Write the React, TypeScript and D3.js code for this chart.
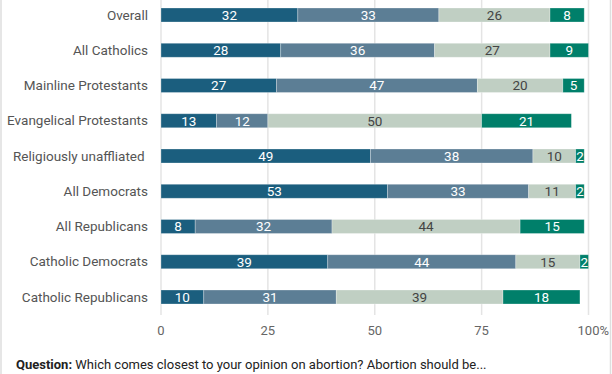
import React, { useEffect, useRef } from 'react';
import * as d3 from 'd3';

const categories = [
  'Overall',
  'All Catholics',
  'Mainline Protestants',
  'Evangelical Protestants',
  'Religiously unaffliated ',
  'All Democrats',
  'All Republicans',
  'Catholic Democrats',
  'Catholic Republicans',
];

// four answer groups, left to right
const legalAll = [32, 28, 27, 13, 49, 53, 8, 39, 10];
const legalMost = [33, 36, 47, 12, 38, 33, 32, 44, 31];
const illegalMost = [26, 27, 20, 50, 10, 11, 44, 15, 39];
const illegalAll = [8, 9, 5, 21, 2, 2, 15, 2, 18];

const seriesColors = ['#1b5e7e', '#5c7e95', '#c0cfc3', '#007f6a'];
const labelColors = ['#ffffff', '#ffffff', '#444444', '#ffffff'];

const tickValues = [0, 25, 50, 75, 100];

const W = 612;
const H = 374;

export default function App() {
  const svgRef = useRef<SVGSVGElement>(null);

  useEffect(() => {
    if (!svgRef.current) return;
    const svg = d3.select(svgRef.current);
    svg.selectAll('*').remove();

    const series = [legalAll, legalMost, illegalMost, illegalAll];
    const rows = categories.map((c, i) => ({ cat: c, vals: series.map(s => s[i]) }));

    const x = d3.scaleLinear().domain([0, 100]).range([161, 588.5]);
    const y = d3.scalePoint<string>().domain(categories).range([15, 297]);
    const barH = 14;

    // frame lines
    svg.append('line')
      .attr('x1', 1).attr('x2', 1).attr('y1', 0).attr('y2', H)
      .attr('stroke', '#dedede').attr('stroke-width', 1.5);
    svg.append('line')
      .attr('x1', 610.5).attr('x2', 610.5).attr('y1', 0).attr('y2', H)
      .attr('stroke', '#dedede').attr('stroke-width', 1.5);

    // grid
    svg.append('g')
      .selectAll('line')
      .data(tickValues)
      .join('line')
      .attr('x1', d => x(d)).attr('x2', d => x(d))
      .attr('y1', 0).attr('y2', 315)
      .attr('stroke', '#e4e4e4')
      .attr('stroke-width', 1.5);

    // category labels
    svg.append('g')
      .selectAll('text')
      .data(categories)
      .join('text')
      .attr('x', 148)
      .attr('y', d => y(d)!)
      .attr('dy', '0.35em')
      .attr('text-anchor', 'end')
      .attr('font-family', 'Roboto, sans-serif')
      .attr('font-size', 13.5)
      .attr('fill', '#555')
      .style('white-space', 'pre')
      .text(d => d);

    // stacked segments
    const rowG = svg.append('g')
      .selectAll('g')
      .data(rows)
      .join('g')
      .attr('transform', d => `translate(0,${y(d.cat)})`);

    rowG.each(function (d) {
      const g = d3.select(this);
      let acc = 0;
      d.vals.forEach((v, k) => {
        const x0 = x(acc);
        const x1 = x(acc + v);
        acc += v;
        g.append('rect')
          .attr('x', x0)
          .attr('y', -barH / 2)
          .attr('width', x1 - x0)
          .attr('height', barH)
          .attr('fill', seriesColors[k])
          .attr('stroke', 'rgba(255,255,255,0.35)')
          .attr('stroke-width', 0.8);
        g.append('text')
          .attr('x', (x0 + x1) / 2)
          .attr('y', 0)
          .attr('dy', '0.36em')
          .attr('text-anchor', 'middle')
          .attr('font-family', 'Roboto, sans-serif')
          .attr('font-size', 13.5)
          .attr('fill', labelColors[k])
          .text(v);
      });
    });

    // x tick labels
    const ticks = svg.append('g')
      .selectAll('text')
      .data(tickValues)
      .join('text')
      .attr('x', d => x(d))
      .attr('y', 335)
      .attr('text-anchor', 'middle')
      .attr('font-family', 'Roboto, sans-serif')
      .attr('font-size', 13)
      .attr('fill', '#666')
      .text(d => String(d));

    // percent sign hangs after the last tick
    const last = ticks.filter(d => d === 100).node() as SVGTextElement;
    const lw = last ? last.getComputedTextLength() : 20;
    svg.append('text')
      .attr('x', x(100) + lw / 2)
      .attr('y', 335)
      .attr('font-family', 'Roboto, sans-serif')
      .attr('font-size', 13)
      .attr('fill', '#666')
      .text('%');

    // question footnote
    const q = svg.append('text')
      .attr('x', 16)
      .attr('y', 369)
      .attr('font-family', 'Roboto, sans-serif')
      .attr('font-size', 13)
      .attr('fill', '#222');
    q.append('tspan').attr('font-weight', 'bold').text('Question:');
    q.append('tspan').text(' Which comes closest to your opinion on abortion? Abortion should be...');
  }, []);

  return (
    <svg
      ref={svgRef}
      width={W}
      height={H}
      style={{ position: 'absolute', left: 0, top: 0, background: '#fff' }}
    />
  );
}
